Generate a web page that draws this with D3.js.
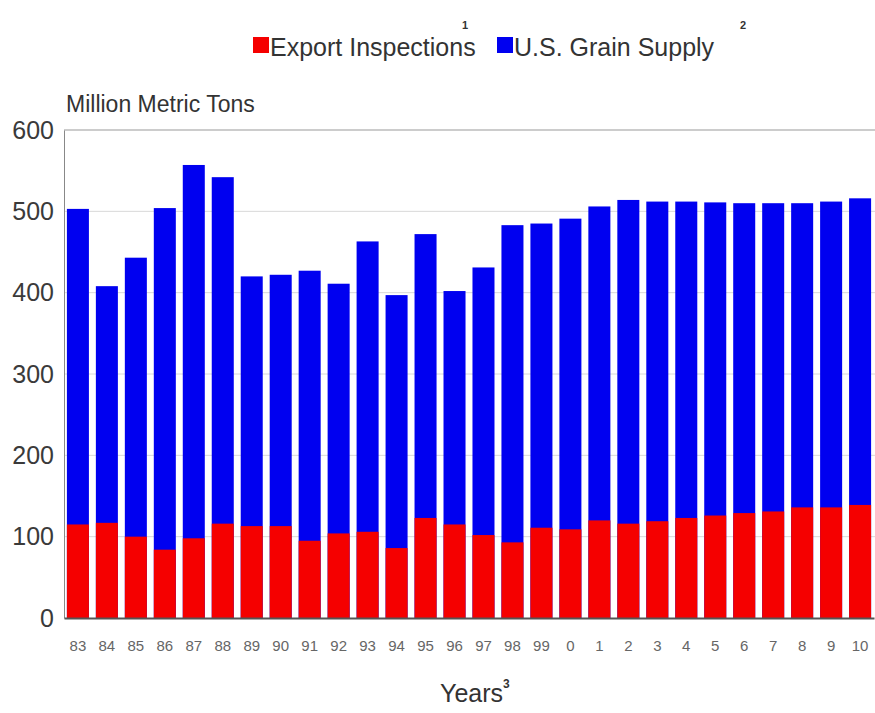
<!DOCTYPE html>
<html>
<head>
<meta charset="utf-8">
<script src="https://cdn.jsdelivr.net/npm/d3@7"></script>
<style>
  body { margin: 0; background: #fff; }
  text { font-family: "Liberation Sans Narrow", "Arial Narrow", "Liberation Sans", sans-serif; }
</style>
</head>
<body>
<div id="chart"></div>
<script>
const width = 875;
const height = 713;
const margin = { top: 130, right: 1, bottom: 95, left: 64 };

// data
const years = ["83", "84", "85", "86", "87", "88", "89", "90", "91", "92", "93", "94", "95", "96",
  "97", "98", "99", "0", "1", "2", "3", "4", "5", "6", "7", "8", "9", "10"];
const grainSupply = [503, 408, 443, 504, 557, 542, 420, 422, 427, 411, 463, 397, 472, 402,
  431, 483, 485, 491, 506, 514, 512, 512, 511, 510, 510, 510, 512, 516];
const exportInspections = [115, 117, 100, 84, 98, 116, 113, 113, 95, 104, 106, 86, 123, 115,
  102, 93, 111, 109, 120, 116, 119, 123, 126, 129, 131, 136, 136, 139];
const yTicks = [0, 100, 200, 300, 400, 500, 600];

const svg = d3.select("#chart")
  .append("svg")
  .attr("width", width)
  .attr("height", height);

const x = d3.scaleBand()
  .domain(years)
  .range([margin.left, width - margin.right])
  .paddingInner(0.24)
  .paddingOuter(0.1);

const y = d3.scaleLinear()
  .domain([0, 600])
  .range([height - margin.bottom, margin.top]);

// gridlines
svg.append("g")
  .selectAll("line")
  .data(yTicks.slice(1, -1))
  .enter()
  .append("line")
  .attr("x1", margin.left)
  .attr("x2", width)
  .attr("y1", d => y(d))
  .attr("y2", d => y(d))
  .attr("stroke", "#d8d8d8")
  .attr("stroke-width", 1);

// top frame line
svg.append("line")
  .attr("x1", margin.left).attr("x2", width)
  .attr("y1", margin.top).attr("y2", margin.top)
  .attr("stroke", "#999");

// supply bars (full height) then export overlay
svg.append("g")
  .selectAll("rect")
  .data(grainSupply)
  .enter()
  .append("rect")
  .attr("x", (d, i) => x(years[i]))
  .attr("width", x.bandwidth())
  .attr("y", d => y(d))
  .attr("height", d => y(0) - y(d))
  .attr("fill", "#0000f0");

svg.append("g")
  .selectAll("rect")
  .data(exportInspections)
  .enter()
  .append("rect")
  .attr("x", (d, i) => x(years[i]))
  .attr("width", x.bandwidth())
  .attr("y", d => y(d))
  .attr("height", d => y(0) - y(d))
  .attr("fill", "#f50000");

// y axis
const yAxis = svg.append("g")
  .attr("transform", `translate(${margin.left},0)`)
  .call(d3.axisLeft(y).tickValues(yTicks).tickSize(0).tickPadding(10));
yAxis.select(".domain").attr("stroke", "#888");
yAxis.selectAll("text")
  .style("font-size", "25px")
  .attr("fill", "#3a3a3a");

// x axis
const xAxis = svg.append("g")
  .attr("transform", `translate(0,${y(0)})`)
  .call(d3.axisBottom(x).tickSize(0).tickPadding(22));
xAxis.select(".domain").attr("stroke", "#555").attr("stroke-width", 2);
xAxis.selectAll("text")
  .style("font-size", "15px")
  .attr("fill", "#666");

// y axis title
svg.append("text")
  .attr("x", 66)
  .attr("y", 112)
  .style("font-size", "23px")
  .attr("fill", "#333")
  .text("Million Metric Tons");

// x axis title
const xt = svg.append("text")
  .attr("x", 440)
  .attr("y", 702)
  .style("font-size", "25px")
  .attr("fill", "#333");
xt.append("tspan").text("Years");
xt.append("tspan").attr("dy", -14).style("font-size", "12px").style("font-weight", "bold").text("3");

// legend
const legendItems = [
  { label: "Export Inspections", sup: "1", color: "#f50000", x: 253, supX: 462 },
  { label: "U.S. Grain Supply", sup: "2", color: "#0000f0", x: 497, supX: 740 }
];
const legend = svg.append("g");
legendItems.forEach(item => {
  legend.append("rect")
    .attr("x", item.x)
    .attr("y", 37)
    .attr("width", 16)
    .attr("height", 16)
    .attr("fill", item.color);
  legend.append("text")
    .attr("x", item.x + 17)
    .attr("y", 56)
    .style("font-size", "25px")
    .attr("fill", "#333")
    .text(item.label);
  legend.append("text")
    .attr("x", item.supX)
    .attr("y", 29)
    .style("font-size", "11px")
    .style("font-weight", "bold")
    .attr("fill", "#333")
    .text(item.sup);
});
</script>
</body>
</html>
